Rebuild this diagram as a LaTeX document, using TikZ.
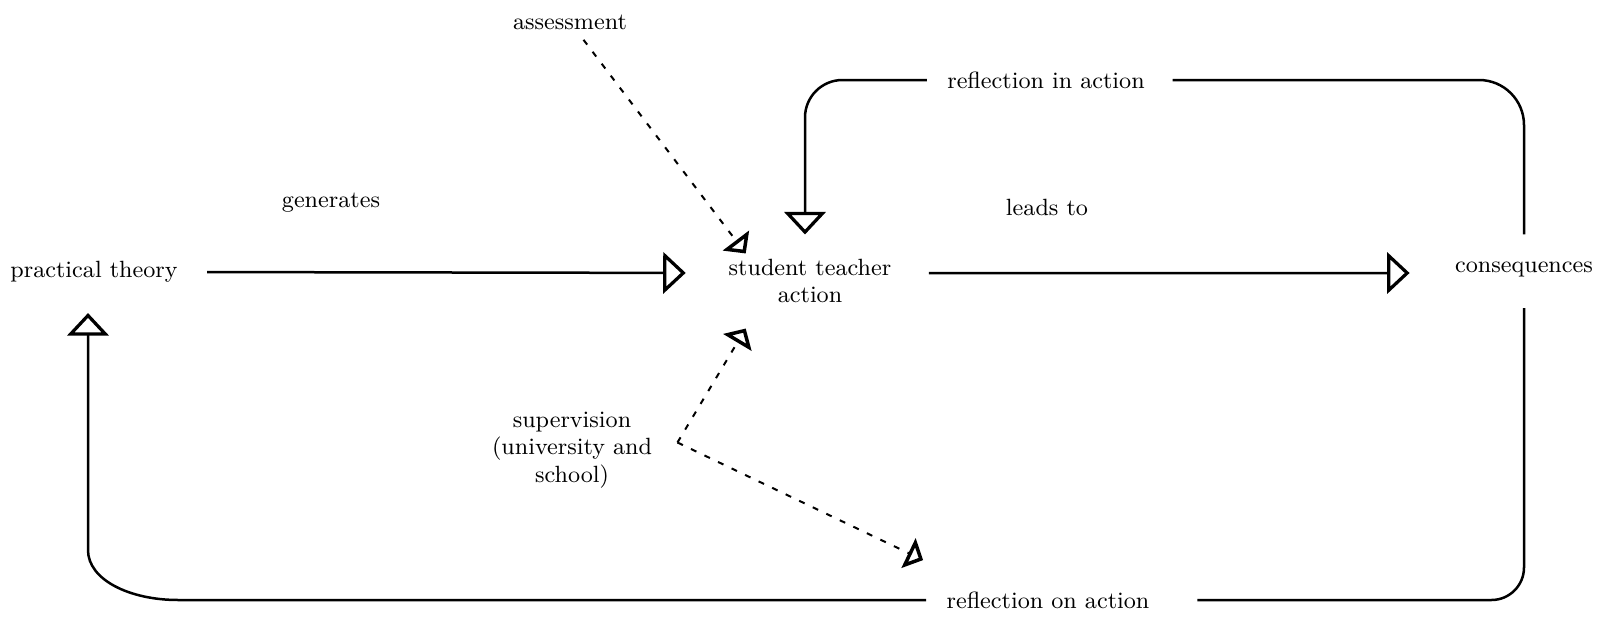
\documentclass[tikz,border=0pt]{standalone}
\usepackage{tikz}
\usetikzlibrary{arrows.meta}

\begin{document}
\begin{tikzpicture}[x=0.4pt, y=-0.4pt,
  lbl/.style={inner sep=0pt, align=center, font=\fontsize{9.4}{11}\selectfont},
  link/.style={line width=1pt},
  flow/.style={line width=1pt, -{Triangle[open, length=9pt, width=16.5pt, line width=1.3pt]}},
  dflow/.style={line width=0.8pt, dash pattern=on 2.4pt off 3.6pt, -{Triangle[open, length=6.5pt, width=13pt, line width=1.4pt]}}]
\useasboundingbox (0,0) rectangle (1608,620);
%% labels
\node[lbl] (theory) at (94,272) {practical theory};
\node[lbl] (action) at (810,281) {student teacher\\action};
\node[lbl] (cons) at (1524,270) {consequences};
\node[lbl] (generates) at (331,203) {generates};
\node[lbl] (leads) at (1047,207) {leads to};
\node[lbl] (assess) at (570,22) {assessment};
\node[lbl] (reflin) at (1046,80) {reflection in action};
\node[lbl] (reflon) at (1048,600) {reflection on action};
\node[lbl] (superv) at (572,450) {supervision\\(university and\\school)};
\coordinate (fork) at ([xshift=10pt,yshift=3pt]superv.east);
%% main line
\draw[flow, shorten <=11.6pt, shorten >=17pt] (theory.east) -- ([yshift=3.2pt]action.west);
\draw[flow, shorten <=14.8pt, shorten >=18pt] ([yshift=3.2pt]action.east) -- ([yshift=-1.2pt]cons.west);
%% reflection in action
\draw[link, rounded corners=18pt] ([yshift=11pt]cons.north) |- ([xshift=11pt]reflin.east);
\draw[flow, rounded corners=15pt] ([xshift=-8pt]reflin.west) -| ([xshift=-2pt,yshift=9.6pt]action.north);
%% reflection on action
\draw[link, rounded corners=13pt] ([yshift=-12pt]cons.south) |- ([xshift=19pt]reflon.east);
\draw[flow, shorten >=12pt] ([xshift=-8pt]reflon.west) -- (178,600) .. controls (130,600) and (88,580) .. (88,550) -- (theory.south -| 88,0);
%% assessment and supervision
\draw[dflow, shorten <=5pt] (assess) -- ([xshift=7pt,yshift=2pt]action.north west);
\draw[dflow] (fork) -- ([xshift=7pt,yshift=-10pt]action.south west);
\draw[dflow] (fork) -- ([xshift=-9.2pt,yshift=12.4pt]reflon.north west);
\end{tikzpicture}
\end{document}
